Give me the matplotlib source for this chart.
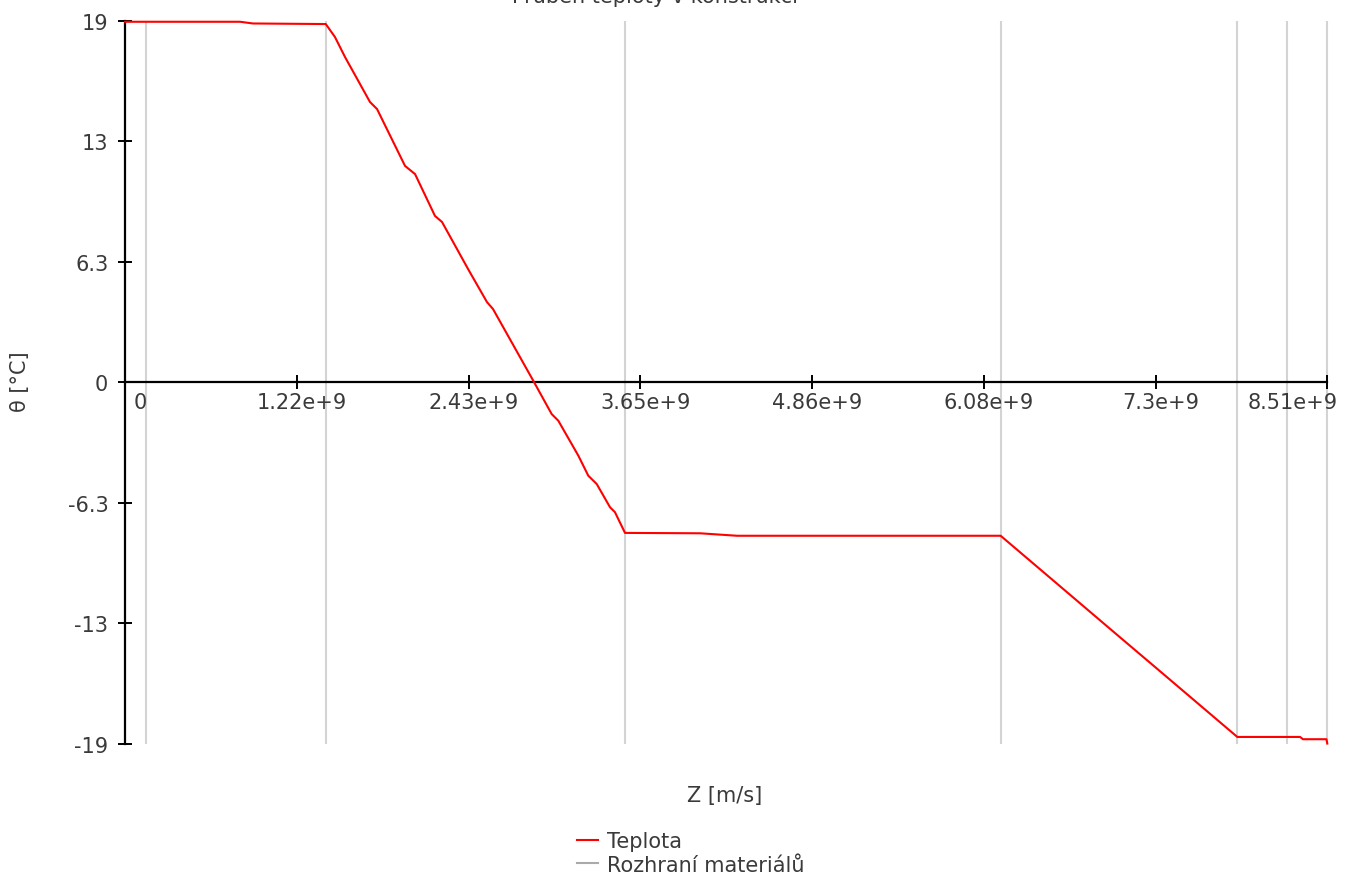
import matplotlib
matplotlib.use("Agg")
import matplotlib.pyplot as plt
from matplotlib.transforms import ScaledTranslation
from matplotlib.lines import Line2D

# ---------------- data ----------------
title = "Průběh teploty v konstrukci"
x_label = "Z [m/s]"
y_label = "θ [°C]"
legend_labels = ["Teplota", "Rozhraní materiálů"]

# material interfaces (x positions)
interfaces = [0.149e9, 1.421e9, 3.539e9, 6.198e9, 7.873e9, 8.227e9, 8.51e9]

# temperature profile
z_vals = [0.0, 0.814e9, 0.906e9, 1.421e9, 1.486e9, 1.557e9, 1.734e9, 1.784e9,
          1.982e9, 2.053e9, 2.194e9, 2.244e9, 2.428e9, 2.562e9, 2.605e9,
          2.890e9, 3.020e9, 3.067e9, 3.209e9, 3.279e9, 3.339e9, 3.433e9,
          3.468e9, 3.539e9, 4.070e9, 4.332e9, 6.198e9, 6.600e9, 7.000e9,
          7.300e9, 7.873e9, 8.317e9, 8.338e9, 8.504e9, 8.510e9]
temp_vals = [18.96, 18.96, 18.87, 18.84, 18.16, 17.11, 14.74, 14.37,
             11.38, 10.95, 8.75, 8.43, 5.96, 4.22, 3.85,
             0.08, -1.67, -2.02, -3.86, -4.91, -5.35, -6.57,
             -6.83, -7.92, -7.94, -8.07, -8.07, -10.61, -13.14,
             -15.03, -18.65, -18.65, -18.77, -18.77, -19.0]

x_max = 8.51e9
x_ticks = [0.0, 1.2157e9, 2.4314e9, 3.6471e9, 4.8629e9, 6.0786e9, 7.2943e9, 8.51e9]
x_ticklabels = ["0", "1.22e+9", "2.43e+9", "3.65e+9", "4.86e+9", "6.08e+9", "7.3e+9", "8.51e+9"]
y_ticks = [-19.0, -12.667, -6.333, 0.0, 6.333, 12.667, 19.0]
y_ticklabels = ["-19", "-13", "-6.3", "0", "6.3", "13", "19"]

# ---------------- figure ----------------
W, H = 1353, 878
DPI = 100
fig = plt.figure(figsize=(W / DPI, H / DPI), dpi=DPI)
plt.rcParams['font.family'] = ['DejaVu Sans']
FS = 15
TXT = '#3a3a3a'

ax_l, ax_r, ax_t, ax_b = 125, 1327.3, 22, 744.6
ax = fig.add_axes([ax_l / W, 1 - ax_b / H, (ax_r - ax_l) / W, (ax_b - ax_t) / H])

# interfaces
ax.vlines(interfaces, -19, 19, colors='#d3d3d3', linewidth=1.5, zorder=1, clip_on=False)
# temperature
ax.plot(z_vals, temp_vals, color='#ff0000', linewidth=1.5, zorder=3, clip_on=False)

ax.set_xlim(0, x_max)
ax.set_ylim(-19, 19)

for s in ['top', 'right']:
    ax.spines[s].set_visible(False)
ax.spines['bottom'].set_position(('data', 0))
ax.spines['bottom'].set_linewidth(1.6)
ax.spines['left'].set_linewidth(1.6)
ax.spines['bottom'].set_zorder(2)

ax.set_xticks(x_ticks)
ax.set_xticklabels(x_ticklabels)
ax.set_yticks(y_ticks)
ax.set_yticklabels(y_ticklabels)
ax.tick_params(axis='both', direction='inout', length=10, width=1.4,
               labelsize=FS, labelcolor=TXT, color='black')
ax.tick_params(axis='x', pad=2)
ax.tick_params(axis='y', pad=7)

# shift x tick labels as in the reference (edge labels kept inside)
n = len(x_ticklabels)
for i, lab in enumerate(ax.get_xticklabels()):
    if i == 0:
        dx = 15
    elif i == n - 1:
        dx = -35
    else:
        dx = 5
    lab.set_transform(lab.get_transform() + ScaledTranslation(dx / DPI, 0, fig.dpi_scale_trans))

# title (mostly cut off at top, as in the reference)
fig.text(655 / W, 1 - 3 / H, title, ha='center', va='baseline', fontsize=FS, color=TXT)
# axis labels
fig.text(20 / W, 1 - 382 / H, y_label, rotation=90, ha='center', va='center', fontsize=FS, color=TXT)
fig.text(725 / W, 1 - 796 / H, x_label, ha='center', va='center', fontsize=FS, color=TXT)

# legend
h1 = Line2D([], [], color='#ff0000', linewidth=1.5)
h2 = Line2D([], [], color='#aaaaaa', linewidth=1.5)
leg = fig.legend([h1, h2], legend_labels, loc='upper left',
                 bbox_to_anchor=(577 / W, 1 - 832 / H), frameon=False,
                 fontsize=FS, handlelength=1.0, handletextpad=0.45,
                 labelspacing=0.18, borderpad=0, borderaxespad=0)
for t in leg.get_texts():
    t.set_color(TXT)

fig.savefig('out.png', dpi=DPI)
